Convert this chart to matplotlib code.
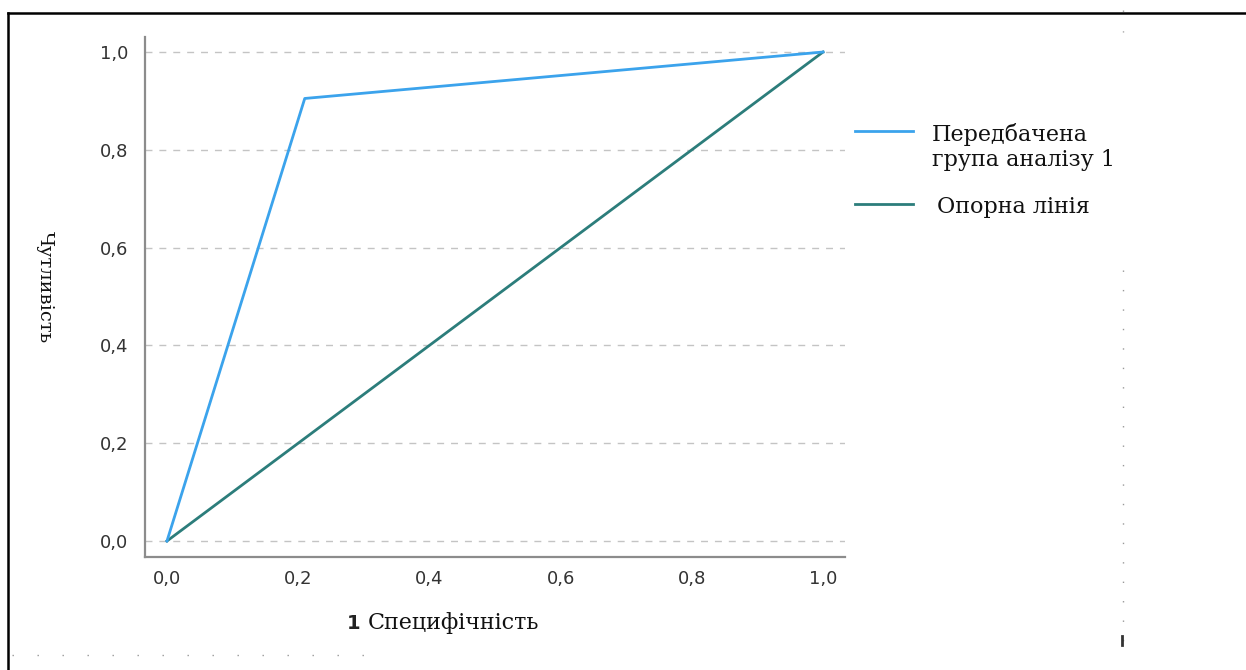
import matplotlib.pyplot as plt
from matplotlib.lines import Line2D
from matplotlib.ticker import FuncFormatter

# ROC curve values
fpr = [0.0, 0.21, 1.0]
tpr = [0.0, 0.905, 1.0]
ref_x = [0.0, 1.0]
ref_y = [0.0, 1.0]
ticks = [0.0, 0.2, 0.4, 0.6, 0.8, 1.0]

legend_labels = ['Передбачена\nгрупа аналізу 1', 'Опорна лінія']
colors = ['#3BA3EC', '#2C7D7B']

W, H = 1246, 670


def px(x, y):
    '''pixel position -> figure fraction'''
    return x / W, 1 - y / H


fig = plt.figure(figsize=(W / 100, H / 100), dpi=100)
ax = fig.add_axes([145 / W, 1 - 557 / H, 700 / W, 520 / H])

ax.plot(ref_x, ref_y, color=colors[1], lw=2, zorder=3)
ax.plot(fpr, tpr, color=colors[0], lw=2, zorder=4)

ax.set_xlim(-0.0335, 1.0335)
ax.set_ylim(-0.0327, 1.0307)
ax.set_xticks(ticks)
ax.set_yticks(ticks)
fmt = FuncFormatter(lambda v, p: f'{v:.1f}'.replace('.', ','))
ax.xaxis.set_major_formatter(fmt)
ax.yaxis.set_major_formatter(fmt)
ax.tick_params(length=0, labelsize=13, labelcolor='#333333')
ax.tick_params(axis='y', pad=12)
ax.tick_params(axis='x', pad=9)

ax.grid(axis='y', color='#c4c4c4', linestyle=(0, (5, 5)), lw=1.0)
ax.set_axisbelow(True)
for s in ['top', 'right']:
    ax.spines[s].set_visible(False)
for s in ['left', 'bottom']:
    ax.spines[s].set_color('#8c8c8c')
    ax.spines[s].set_linewidth(1.6)

# axis titles
fig.text(*px(45, 287), 'Чутливість', rotation=270, ha='center', va='center',
         family='DejaVu Serif', fontsize=14, color='#111')
fig.text(*px(360, 629), '1', ha='right', va='baseline',
         family='DejaVu Sans', weight='bold', fontsize=14, color='#222')
fig.text(*px(368, 629), 'Специфічність', ha='left', va='baseline',
         family='DejaVu Serif', fontsize=16, color='#111')

# legend drawn by hand to keep handle at first text line
fig.add_artist(Line2D([855 / W, 913 / W], [1 - 131 / H, 1 - 131 / H],
                      color=colors[0], lw=2))
fig.add_artist(Line2D([855 / W, 913 / W], [1 - 204 / H, 1 - 204 / H],
                      color=colors[1], lw=2))
first, second = legend_labels[0].split('\n')
fig.text(*px(932, 141), first, va='baseline', family='DejaVu Serif',
         fontsize=16, color='#111')
fig.text(*px(932, 166), second, va='baseline', family='DejaVu Serif',
         fontsize=16, color='#111')
fig.text(*px(937, 213), legend_labels[1], va='baseline', family='DejaVu Serif',
         fontsize=16, color='#111')

# page frame: black top and left, dotted right and bottom
fig.add_artist(Line2D([8 / W, 1], [1 - 13 / H, 1 - 13 / H], color='black', lw=1.8))
fig.add_artist(Line2D([8 / W, 8 / W], [1 - 13 / H, 0], color='black', lw=1.8))
fig.add_artist(Line2D([1123 / W, 1123 / W], [1 - 10 / H, 1 - 32 / H],
                      color='#999', lw=1, linestyle=(0, (1, 14))))
fig.add_artist(Line2D([1123 / W, 1123 / W], [1 - 270 / H, 1 - 655 / H],
                      color='#999', lw=1, linestyle=(0, (1, 13))))
fig.add_artist(Line2D([1122 / W, 1122 / W], [1 - 636 / H, 1 - 645 / H],
                      color='#333', lw=2))
fig.add_artist(Line2D([12 / W, 365 / W], [1 - 655 / H, 1 - 655 / H],
                      color='#999', lw=1, linestyle=(0, (1, 17))))

fig.savefig('out.png', dpi=100)
